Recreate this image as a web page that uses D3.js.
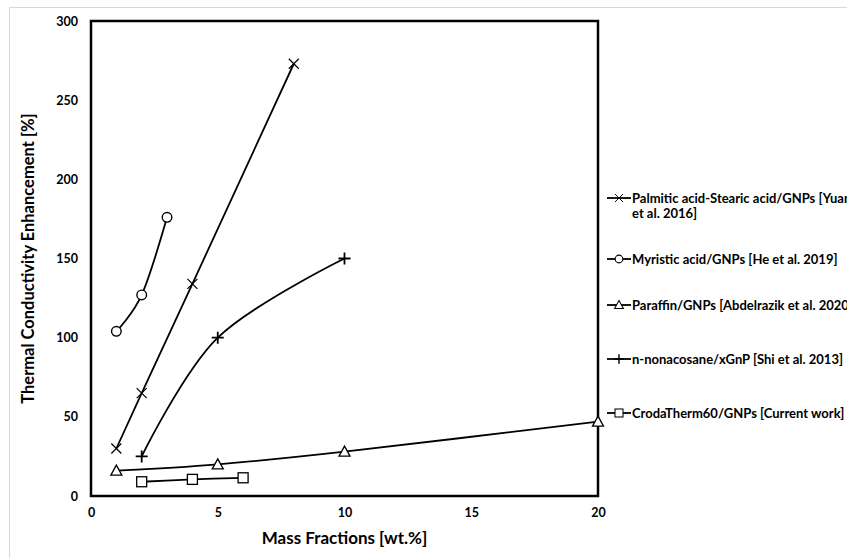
<!DOCTYPE html>
<html>
<head>
<meta charset="utf-8">
<script src="https://cdn.jsdelivr.net/npm/d3@7"></script>
<style>
  body { margin: 0; background: #fff; }
  svg { display: block; font-family: "Lato", "Open Sans", sans-serif; }
</style>
</head>
<body>
<svg id="chart" width="847" height="558"></svg>
<script>
// data
const seriesNames = [
  "Palmitic acid-Stearic acid/GNPs [Yuan et al. 2016]",
  "Myristic acid/GNPs [He et al. 2019]",
  "Paraffin/GNPs [Abdelrazik et al. 2020]",
  "n-nonacosane/xGnP [Shi et al. 2013]",
  "CrodaTherm60/GNPs [Current work]"
];
const markers = ["x", "circle", "triangle", "plus", "square"];
const palmiticX = [1, 2, 4, 8];
const palmiticY = [30, 65, 134, 273];
const myristicX = [1, 2, 3];
const myristicY = [104, 127, 176];
const paraffinX = [1, 5, 10, 20];
const paraffinY = [16, 20, 28, 47];
const nonacosaneX = [2, 5, 10];
const nonacosaneY = [25, 100, 150];
const crodaX = [2, 4, 6];
const crodaY = [9, 10.5, 11.5];
const xTicks = [0, 5, 10, 15, 20];
const yTicks = [0, 50, 100, 150, 200, 250, 300];

const seriesX = [palmiticX, myristicX, paraffinX, nonacosaneX, crodaX];
const seriesY = [palmiticY, myristicY, paraffinY, nonacosaneY, crodaY];

const svg = d3.select("#chart");

// outer chart area border (light grey, runs off the picture)
svg.append("rect")
  .attr("x", 9.5).attr("y", 7.5)
  .attr("width", 900).attr("height", 600)
  .attr("fill", "none").attr("stroke", "#d9d9d9").attr("stroke-width", 1);

const plotL = 91, plotR = 598, plotT = 21, plotB = 496;
const x = d3.scaleLinear().domain([0, 20]).range([plotL, plotR]);
const y = d3.scaleLinear().domain([0, 300]).range([plotB, plotT]);

// tick labels
const xAxis = svg.append("g")
  .attr("transform", `translate(0,${plotB})`)
  .call(d3.axisBottom(x).tickValues(xTicks).tickSize(0).tickPadding(12));
const yAxis = svg.append("g")
  .attr("transform", `translate(${plotL},0)`)
  .call(d3.axisLeft(y).tickValues(yTicks).tickSize(0).tickPadding(13));
[xAxis, yAxis].forEach(function(a){
  a.select(".domain").remove();
  a.selectAll("text")
    .style("font-family", "Lato, 'Open Sans', sans-serif")
    .style("font-size", "12.5px")
    .style("font-weight", "bold")
    .attr("fill", "#000");
});

// plot frame
svg.append("rect")
  .attr("x", plotL).attr("y", plotT)
  .attr("width", plotR - plotL).attr("height", plotB - plotT)
  .attr("fill", "none").attr("stroke", "#000").attr("stroke-width", 2.5);

// axis titles
svg.append("text")
  .attr("x", (plotL + plotR) / 2).attr("y", 544)
  .attr("text-anchor", "middle")
  .style("font-size", "17px").style("font-weight", "bold")
  .text("Mass Fractions [wt.%]");
svg.append("text")
  .attr("transform", `translate(34,${(plotT + plotB) / 2}) rotate(-90)`)
  .attr("text-anchor", "middle")
  .style("font-size", "16.5px").style("font-weight", "bold")
  .text("Thermal Conductivity Enhancement [%]");

const drawMarker = function(g, type, cx, cy){
  const s = 5;
  if(type === "x"){
    g.append("path")
      .attr("d", `M${cx - s},${cy - s}L${cx + s},${cy + s}M${cx - s},${cy + s}L${cx + s},${cy - s}`)
      .attr("stroke", "#000").attr("stroke-width", 1.2).attr("fill", "none");
  }else if(type === "plus"){
    g.append("path")
      .attr("d", `M${cx - s - 1},${cy}L${cx + s + 1},${cy}M${cx},${cy - s - 1}L${cx},${cy + s + 1}`)
      .attr("stroke", "#000").attr("stroke-width", 1.8).attr("fill", "none");
  }else if(type === "circle"){
    g.append("circle").attr("cx", cx).attr("cy", cy).attr("r", 4.8)
      .attr("stroke", "#000").attr("stroke-width", 1.4).attr("fill", "#fff");
  }else if(type === "square"){
    g.append("rect").attr("x", cx - 5).attr("y", cy - 5).attr("width", 10).attr("height", 10)
      .attr("stroke", "#000").attr("stroke-width", 1.3).attr("fill", "#fff");
  }else if(type === "triangle"){
    g.append("path")
      .attr("d", `M${cx},${cy - 5.5}L${cx + 5.5},${cy + 4.5}L${cx - 5.5},${cy + 4.5}Z`)
      .attr("stroke", "#000").attr("stroke-width", 1.3).attr("fill", "#fff");
  }
};

const line = d3.line()
  .x(function(d){ return x(d[0]); })
  .y(function(d){ return y(d[1]); })
  .curve(d3.curveCatmullRom.alpha(0));

const plot = svg.append("g");
seriesX.forEach(function(xs, i){
  const pts = xs.map(function(v, j){ return [v, seriesY[i][j]]; });
  plot.append("path")
    .attr("d", line(pts))
    .attr("fill", "none").attr("stroke", "#000").attr("stroke-width", 1.8);
});
seriesX.forEach(function(xs, i){
  const g = plot.append("g");
  xs.forEach(function(v, j){ drawMarker(g, markers[i], x(v), y(seriesY[i][j])); });
});

// legend
const legendY = [198, 259, 305, 359, 413];
const legend = svg.append("g");
seriesNames.forEach(function(name, i){
  const ly = legendY[i];
  legend.append("line")
    .attr("x1", 607).attr("x2", 631).attr("y1", ly).attr("y2", ly)
    .attr("stroke", "#000").attr("stroke-width", 1.8);
  const g = legend.append("g").attr("transform", `translate(${619},${ly}) scale(0.8)`);
  drawMarker(g, markers[i], 0, 0);
  const t = legend.append("text")
    .attr("x", 632).attr("y", ly + 4.5)
    .style("font-size", "13px").style("font-weight", "bold");
  if(i === 0){
    t.append("tspan").attr("x", 632).text("Palmitic acid-Stearic acid/GNPs [Yuan");
    t.append("tspan").attr("x", 632).attr("dy", 15).text("et al. 2016]");
  }else{
    t.text(name);
  }
});
</script>
</body>
</html>
